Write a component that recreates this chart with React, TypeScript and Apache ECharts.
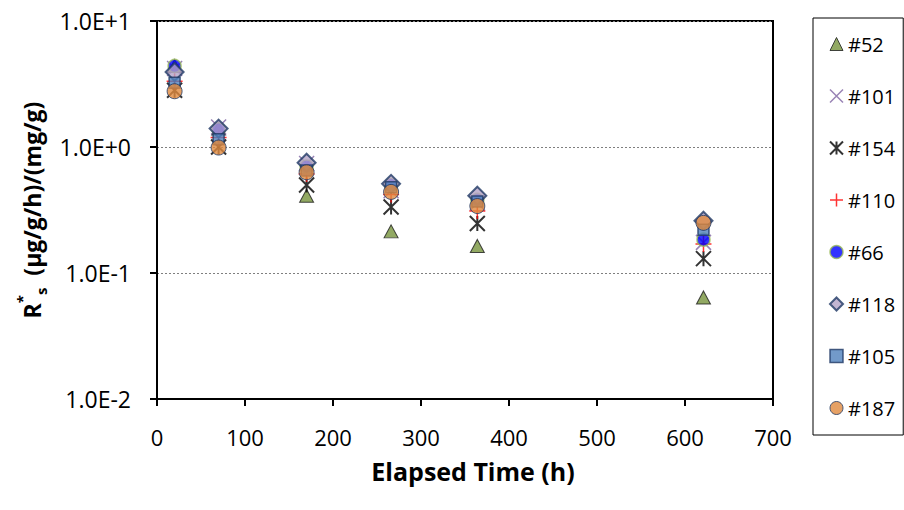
import React, { useEffect, useRef } from "react";
import * as echarts from "echarts";

const elapsedHours = [20, 70, 170, 266, 364, 621];
const seriesNames = ["#52", "#101", "#154", "#110", "#66", "#118", "#105", "#187"];
const s52 = [4.4, 1.4, 0.41, 0.214, 0.164, 0.064];
const s101 = [4.2, 1.44, 0.74, 0.45, 0.36, 0.175];
const s154 = [2.82, 1.0, 0.5, 0.334, 0.247, 0.13];
const s110 = [3.32, 1.19, 0.61, 0.42, 0.31, 0.17];
const s66 = [4.4, 1.38, 0.7, 0.5, 0.38, 0.184];
const s118 = [3.94, 1.4, 0.75, 0.51, 0.41, 0.26];
const s105 = [3.23, 1.15, 0.65, 0.48, 0.37, 0.22];
const s187 = [2.77, 0.99, 0.63, 0.44, 0.34, 0.25];
const xTickLabels = ["0", "100", "200", "300", "400", "500", "600", "700"];
const yTickLabels = ["1.0E-2", "1.0E-1", "1.0E+0", "1.0E+1"];

const FONT = "'Open Sans', 'Noto Sans', sans-serif";
const NAVY = "#1F3864";

const X_PATH = "path://M0,0L10,10M10,0L0,10";
const STAR_PATH = "path://M0,0L10,10M10,0L0,10M5,0L5,10";
const PLUS_PATH = "path://M0,5L10,5M5,0L5,10";

const styles: Record<string, any> = {
  "#52": { symbol: "triangle", size: [14, 13], itemStyle: { color: "#77933C", borderColor: "#1d1d1d", borderWidth: 1 } },
  "#101": { symbol: X_PATH, size: 15, itemStyle: { color: "rgba(0,0,0,0)", borderColor: "#8064A2", borderWidth: 1.5 } },
  "#154": { symbol: STAR_PATH, size: 15, itemStyle: { color: "rgba(0,0,0,0)", borderColor: "#000000", borderWidth: 2 } },
  "#110": { symbol: PLUS_PATH, size: 16, itemStyle: { color: "rgba(0,0,0,0)", borderColor: "#FF0000", borderWidth: 1.5 } },
  "#66": { symbol: "circle", size: 13, itemStyle: { color: "#0000FF", borderColor: "#9BBB59", borderWidth: 1.5 } },
  "#118": { symbol: "diamond", size: 18, itemStyle: { color: "#B3A2C7", borderColor: NAVY, borderWidth: 2 } },
  "#105": { symbol: "rect", size: 11, itemStyle: { color: "#4F81BD", borderColor: NAVY, borderWidth: 1.5 } },
  "#187": { symbol: "circle", size: 15, itemStyle: { color: "#E08A3E", borderColor: NAVY, borderWidth: 1 } },
};

const values: Record<string, number[]> = {
  "#52": s52,
  "#101": s101,
  "#154": s154,
  "#110": s110,
  "#66": s66,
  "#118": s118,
  "#105": s105,
  "#187": s187,
};

export default function App() {
  const ref = useRef<HTMLDivElement>(null);
  useEffect(() => {
    if (!ref.current) return;
    document.body.style.margin = "0";
    const chart = echarts.init(ref.current, null, { renderer: "svg" });
    const series = seriesNames.map((name) => ({
      name,
      type: "scatter",
      symbol: styles[name].symbol,
      symbolSize: styles[name].size,
      itemStyle: styles[name].itemStyle,
      data: elapsedHours.map((x, i) => [x, values[name][i]]),
    }));
    chart.setOption({
      animation: false,
      backgroundColor: "#ffffff",
      grid: {
        left: 157,
        top: 21,
        right: 131,
        bottom: 111,
        show: true,
        borderColor: "#000",
        borderWidth: 2,
        backgroundColor: "transparent",
      },
      legend: {
        orient: "vertical",
        left: 813,
        top: 18,
        itemWidth: 13,
        itemHeight: 13,
        itemGap: 32,
        padding: [16, 8, 17, 16],
        borderColor: "#000",
        borderWidth: 1,
        textStyle: { fontFamily: FONT, fontSize: 20, color: "#000" },
        data: seriesNames.map((name) => ({
          name,
          itemStyle: {
            ...styles[name].itemStyle,
            borderWidth: Math.min(styles[name].itemStyle.borderWidth, 2),
          },
        })),
      },
      xAxis: {
        type: "value",
        min: 0,
        max: 700,
        interval: 100,
        name: "Elapsed Time (h)",
        nameLocation: "middle",
        nameGap: 59,
        nameTextStyle: { fontFamily: FONT, fontSize: 25, fontWeight: "bold", color: "#000", padding: [0, 0, 0, 16] },
        axisLine: { show: true, onZero: false, lineStyle: { color: "#000", width: 2 } },
        axisTick: { show: true, length: 7, lineStyle: { color: "#000", width: 2 } },
        axisLabel: {
          fontFamily: FONT,
          fontSize: 22,
          color: "#000",
          margin: 27,
          formatter: (v: number) => xTickLabels[Math.round(v / 100)] ?? String(v),
        },
        splitLine: { show: false },
      },
      yAxis: {
        type: "log",
        logBase: 10,
        min: 0.01,
        max: 10,
        name: "{b|R}{sup|*}{sub|s}{b|  (µg/g/h)/(mg/g)}",
        nameLocation: "middle",
        nameGap: 103,
        nameTextStyle: {
          fontFamily: FONT,
          fontSize: 23,
          fontWeight: "bold",
          color: "#000",
          rich: {
            b: { fontFamily: FONT, fontSize: 23, fontWeight: "bold", color: "#000", lineHeight: 34 },
            sup: { fontFamily: FONT, fontSize: 15, fontWeight: "bold", color: "#000", lineHeight: 15, verticalAlign: "top" },
            sub: { fontFamily: FONT, fontSize: 15, fontWeight: "bold", color: "#000", lineHeight: 15, verticalAlign: "bottom" },
          },
        },
        axisLine: { show: true, onZero: false, lineStyle: { color: "#000", width: 2 } },
        axisTick: { show: true, length: 7, lineStyle: { color: "#000", width: 2 } },
        axisLabel: {
          fontFamily: FONT,
          fontSize: 23,
          color: "#000",
          margin: 26,
          formatter: (v: number) => yTickLabels[Math.round(Math.log10(v)) + 2] ?? String(v),
        },
        splitLine: { show: true, lineStyle: { color: "#7f7f7f", width: 1, type: [2, 2] } },
      },
      series,
    });
    return () => chart.dispose();
  }, []);
  return <div ref={ref} style={{ position: "absolute", left: 0, top: 0, width: 904, height: 510 }} />;
}
